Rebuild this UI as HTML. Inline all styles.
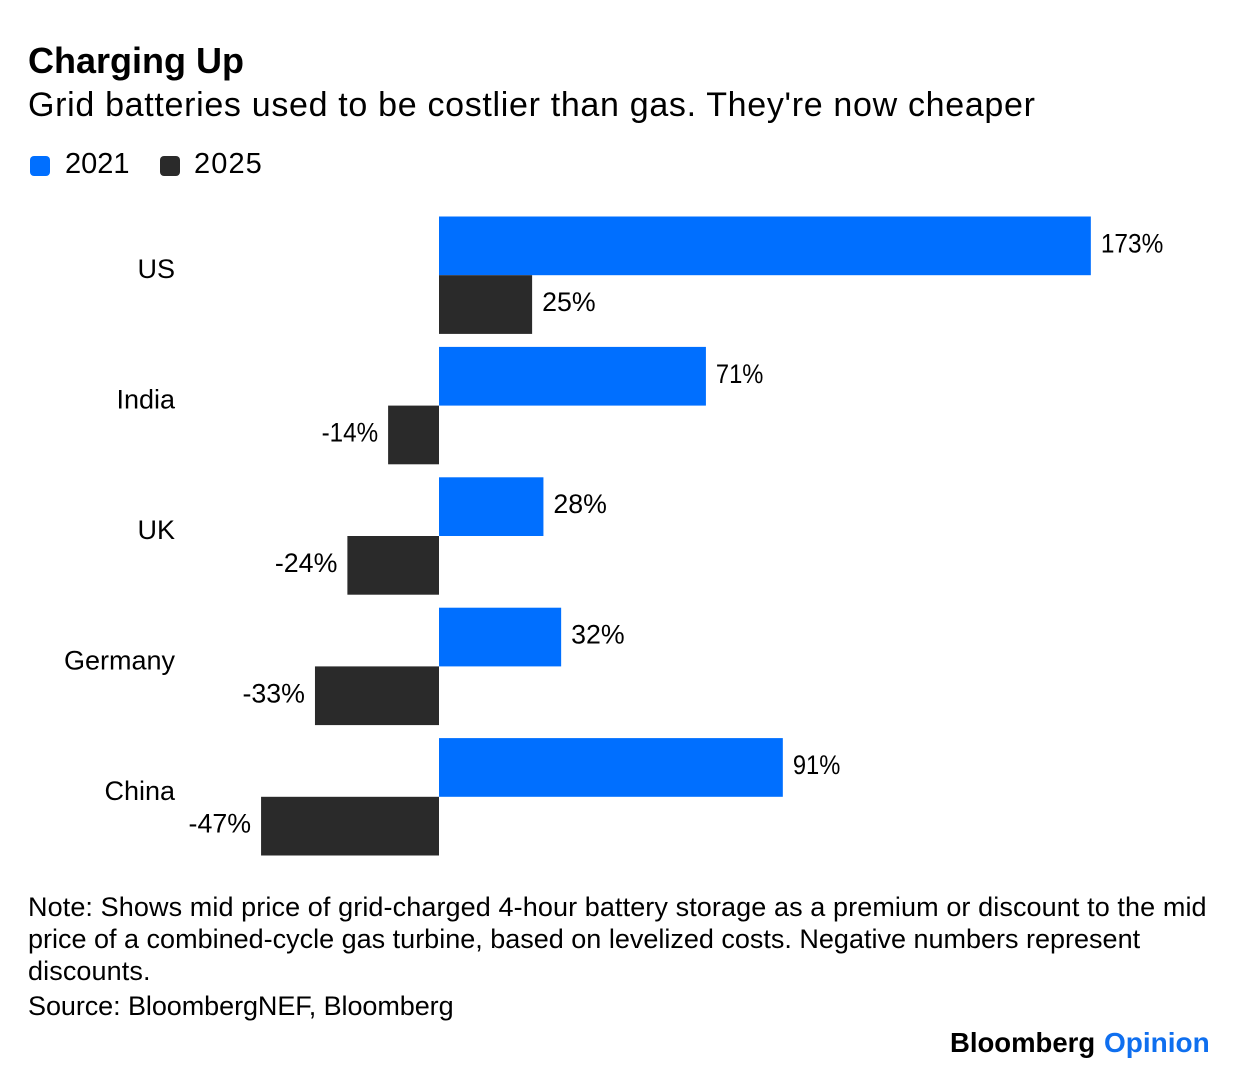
<!DOCTYPE html>
<html lang="en">
<head>
<meta charset="utf-8">
<title>Charging Up</title>
<style>
html,body{margin:0;padding:0;background:#fff;}
#wrap{position:relative;width:1237px;height:1086px;overflow:hidden;background:#fff;font-family:"Liberation Sans",sans-serif;color:#000;}
.t{position:absolute;white-space:nowrap;}
svg{position:absolute;left:0;top:0;}
svg text{font-family:"Liberation Sans",sans-serif;font-size:27px;fill:#000;}
</style>
</head>
<body>
<div id="wrap">
<div class="t" style="left:28px;top:41px;font-size:36px;font-weight:bold;line-height:40px;">Charging Up</div>
<div class="t" style="left:28px;top:85px;font-size:34px;line-height:40px;letter-spacing:0.68px;">Grid batteries used to be costlier than gas. They're now cheaper</div>
<div class="t" style="left:30px;top:156px;width:20px;height:20px;border-radius:4px;background:#006fff;"></div>
<div class="t" style="left:65px;top:148px;font-size:29px;line-height:32px;">2021</div>
<div class="t" style="left:160px;top:156px;width:20px;height:20px;border-radius:4px;background:#2a2a2a;"></div>
<div class="t" style="left:194px;top:148px;font-size:29px;line-height:32px;letter-spacing:1.1px;">2025</div>
<svg id="chart" width="1237" height="1086"></svg>
<div class="t" style="left:28px;top:891px;font-size:27px;line-height:32px;"><span style="letter-spacing:0.1px;">Note: Shows mid price of grid-charged 4-hour battery storage as a premium or discount to the mid</span><br><span style="letter-spacing:0px;">price of a combined-cycle gas turbine, based on levelized costs. Negative numbers represent</span><br><span style="letter-spacing:0.1px;">discounts.</span></div>
<div class="t" style="left:28px;top:990px;font-size:27px;line-height:32px;letter-spacing:-0.07px;">Source: BloombergNEF, Bloomberg</div>
<div class="t" style="left:950px;top:1026px;font-size:27.5px;font-weight:bold;line-height:34px;">Bloomberg</div>
<div class="t" style="left:1104px;top:1026px;font-size:28px;font-weight:bold;line-height:34px;color:#0f6fef;">Opinion</div>
</div>
<script>
const categories = ["US", "India", "UK", "Germany", "China"];
const values2021 = [172.9, 70.8, 27.7, 32.4, 91.2];
const values2025 = [24.7, -13.5, -24.3, -32.9, -47.2];
const labels2021 = ["173%", "71%", "28%", "32%", "91%"];
const labels2025 = ["25%", "-14%", "-24%", "-33%", "-47%"];

const svg = document.getElementById('chart');
const NS = 'http://www.w3.org/2000/svg';
const zeroX = 439;
const pxPerUnit = 3.77;
const bandTop = 216.5;
const bandStep = 130.4;
const barH = 58.7;
const colors = { a: '#006fff', b: '#2a2a2a' };

function xScale(v) { return zeroX + v * pxPerUnit; }
function yBand(i) { return bandTop + i * bandStep; }
function labelWidth(s) {
  const ones = s.split('1').length - 1;
  const hyphens = s.split('-').length - 1;
  const digits = s.length - 1 - hyphens;
  return 53.5 + (digits - 2) * 15 + hyphens * 9 - ones * 6;
}

function drawBar(v, text, y, color, nameBar, nameLabel) {
  const x1 = xScale(v);
  const rect = document.createElementNS(NS, 'rect');
  rect.setAttribute('x', Math.min(zeroX, x1));
  rect.setAttribute('y', y);
  rect.setAttribute('width', Math.abs(x1 - zeroX));
  rect.setAttribute('height', barH);
  rect.setAttribute('fill', color);
  
  
  svg.appendChild(rect);

  const label = document.createElementNS(NS, 'text');
  label.setAttribute('x', v >= 0 ? x1 + 10 : x1 - 10);
  label.setAttribute('y', y + barH / 2 + 6.5);
  label.setAttribute('text-anchor', v >= 0 ? 'start' : 'end');
  label.setAttribute('textLength', labelWidth(text));
  label.setAttribute('lengthAdjust', 'spacingAndGlyphs');
  label.textContent = text;
  
  
  svg.appendChild(label);
}

categories.forEach(function (cat, i) {
  const y = yBand(i);
  const key = cat.toLowerCase();

  const catLabel = document.createElementNS(NS, 'text');
  catLabel.setAttribute('x', 175);
  catLabel.setAttribute('y', y + barH + 3);
  catLabel.setAttribute('text-anchor', 'end');
  catLabel.textContent = cat;
  
  
  svg.appendChild(catLabel);

  drawBar(values2021[i], labels2021[i], y, colors.a, 'bar-2021-' + key, 'value-label-2021-' + key);
  drawBar(values2025[i], labels2025[i], y + barH, colors.b, 'bar-2025-' + key, 'value-label-2025-' + key);
});
</script>
</body>
</html>
